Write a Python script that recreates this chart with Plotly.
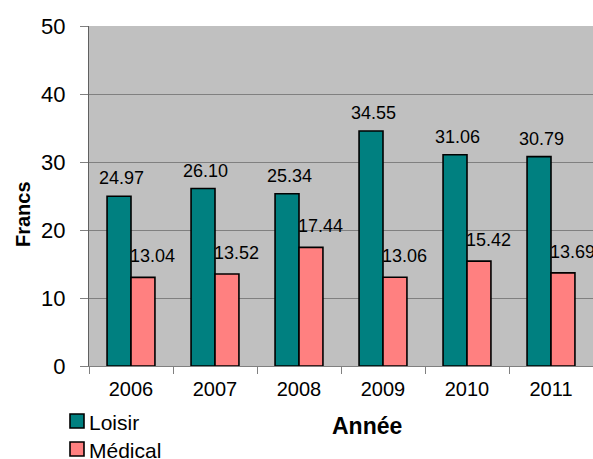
import plotly.graph_objects as go

years = ["2006", "2007", "2008", "2009", "2010", "2011"]
loisir = [24.97, 26.10, 25.34, 34.55, 31.06, 30.79]
medical = [13.04, 13.52, 17.44, 13.06, 15.42, 13.69]
y_ticks = [0, 10, 20, 30, 40, 50]
series_names = ["Loisir", "Médical"]

TEAL = "#008080"
PINK = "#FF8080"
FONT = "Liberation Sans, Arial, sans-serif"

W, H = 593, 459
ML, MR, MT, MB = 89, 0, 26, 93
PW, PH = W - ML - MR, H - MT - MB


def px_x(p):
    return (p - ML) / PW


def px_y(p):
    return (H - MB - p) / PH


fig = go.Figure()
fig.add_trace(go.Bar(name=series_names[0], x=years, y=loisir, showlegend=False,
                     marker=dict(color=TEAL, line=dict(color="black", width=1.6))))
fig.add_trace(go.Bar(name=series_names[1], x=years, y=medical, showlegend=False,
                     marker=dict(color=PINK, line=dict(color="black", width=1.6))))

annotations = []
for i, v in enumerate(loisir):
    annotations.append(dict(x=i, y=v, xref="x", yref="y", text=f"{v:.2f}",
                            showarrow=False, xshift=-10, yshift=18, yanchor="middle",
                            font=dict(size=18, color="black", family=FONT)))
for i, v in enumerate(medical):
    annotations.append(dict(x=i, y=v, xref="x", yref="y", text=f"{v:.2f}",
                            showarrow=False, xshift=21, yshift=21, yanchor="middle",
                            font=dict(size=18, color="black", family=FONT)))
annotations.append(dict(x=px_x(23), y=px_y(214), xref="paper", yref="paper", text="<b>Francs</b>",
                        textangle=-90, showarrow=False, xanchor="center", yanchor="middle",
                        font=dict(size=20, color="black", family=FONT)))
annotations.append(dict(x=px_x(367), y=px_y(426), xref="paper", yref="paper", text="<b>Année</b>",
                        showarrow=False, xanchor="center", yanchor="middle",
                        font=dict(size=23, color="black", family=FONT)))

# manual legend
shapes = []
legend_rows = [(series_names[0], TEAL, 421), (series_names[1], PINK, 449)]
for name, col, cy in legend_rows:
    shapes.append(dict(type="rect", xref="paper", yref="paper",
                       x0=px_x(70), x1=px_x(84), y0=px_y(cy + 7), y1=px_y(cy - 7),
                       fillcolor=col, line=dict(color="black", width=1.6)))
    annotations.append(dict(x=px_x(87), y=px_y(cy + 1), xref="paper", yref="paper", text=name,
                            showarrow=False, xanchor="left", yanchor="middle",
                            font=dict(size=21, color="black", family=FONT)))

fig.update_layout(
    template="none",
    width=W, height=H,
    autosize=False,
    margin=dict(l=ML, r=MR, t=MT, b=MB, pad=0),
    paper_bgcolor="white",
    plot_bgcolor="#C0C0C0",
    barmode="group",
    bargap=0.43,
    bargroupgap=0,
    font=dict(family=FONT, color="black"),
    showlegend=False,
    annotations=annotations,
    shapes=shapes,
    xaxis=dict(type="category", range=[-0.5, len(years) - 0.5], showline=True,
               linecolor="#808080", linewidth=1, automargin=False,
               ticks="outside", tickson="boundaries", ticklen=7, tickcolor="#808080",
               tickfont=dict(size=20, family=FONT, color="black"),
               showgrid=False, zeroline=False, ticklabelstandoff=5),
    yaxis=dict(range=[0, 50], tickvals=y_ticks, showline=True, linecolor="#606060", linewidth=1,
               automargin=False,
               ticks="outside", ticklen=8, tickcolor="#808080",
               tickfont=dict(size=22, family=FONT, color="black"),
               showgrid=True, gridcolor="#808080", gridwidth=1, zeroline=False,
               ticklabelstandoff=10),
)

fig.write_html("out.html",
               config={"displayModeBar": False},
               post_script="document.body.style.margin='0';document.body.style.overflow='hidden';")
